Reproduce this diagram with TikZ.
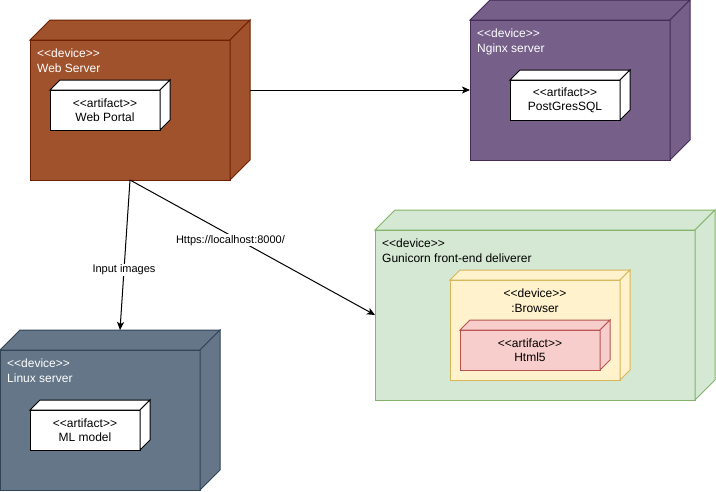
\documentclass[tikz,border=0pt]{standalone}
\usepackage{fontspec}
\setmainfont{Liberation Sans}[Ligatures=TeXOff]
\usetikzlibrary{arrows.meta,calc}

\definecolor{webfill}{HTML}{A0522D}\definecolor{webline}{HTML}{6D1F00}
\definecolor{ngfill}{HTML}{76608A}\definecolor{ngline}{HTML}{432D57}
\definecolor{lxfill}{HTML}{647687}\definecolor{lxline}{HTML}{314354}
\definecolor{gnfill}{HTML}{D5E8D4}\definecolor{gnline}{HTML}{82B366}
\definecolor{brfill}{HTML}{FFF2CC}\definecolor{brline}{HTML}{D6B656}
\definecolor{htfill}{HTML}{F8CECC}\definecolor{htline}{HTML}{B85450}

\tikzset{
  face/.style={draw, line width=1pt, inner sep=0pt, outer sep=0pt, anchor=north west},
  side/.style={line width=1pt, line join=miter},
  devtext/.style={inner sep=0pt, anchor=north west, align=left, font=\fontsize{12}{14.4}\selectfont},
  midtext/.style={inner sep=0pt, align=center, font=\fontsize{12}{14.4}\selectfont},
  conn/.style={line width=1pt, -{Stealth[length=8pt,width=7pt,inset=2pt]}},
  edgelabel/.style={fill=white, inner sep=1pt, font=\fontsize{11}{13}\selectfont},
}

% 3D box: name, left x, top y, width, height, depth, fill, line colour
\newcommand{\deploybox}[8]{%
  \node[face, fill=#7, draw=#8, minimum width=#4pt, minimum height=#5pt] (#1) at (#2,#3) {};
  \draw[side, fill=#7, draw=#8] (#1.north west) -- ++(#6,-#6)
     -- ($(#1.north east)+(#6,-#6)$) -- (#1.north east) -- cycle;
  \draw[side, fill=#7, draw=#8] (#1.north east) -- ++(#6,-#6)
     -- ($(#1.south east)+(#6,-#6)$) -- (#1.south east) -- cycle;
}

\begin{document}
\begin{tikzpicture}[x=1pt,y=-1pt]
\useasboundingbox (0,0) rectangle (716,491);

% Web server
\deploybox{web}{30}{40}{200}{140}{20}{webfill}{webline}
\node[devtext, text=white] (webT) at ($(web.north west)+(7,9)$) {<<device>>\\Web Server};
\deploybox{portal}{50}{90}{110}{40}{10}{white}{black}
\node[midtext] (portalT) at (portal.center) {<<artifact>>\\Web Portal};

% Nginx server
\deploybox{nginx}{470}{20}{200}{140}{20}{ngfill}{ngline}
\node[devtext, text=white] (nginxT) at ($(nginx.north west)+(7,9)$) {<<device>>\\Nginx server};
\deploybox{pg}{510}{80}{110}{40}{10}{white}{black}
\node[midtext] (pgT) at (pg.center) {<<artifact>>\\PostGresSQL};

% Gunicorn front-end deliverer
\deploybox{guni}{375}{230}{320}{170}{20}{gnfill}{gnline}
\node[devtext] (guniT) at ($(guni.north west)+(7,9)$) {<<device>>\\Gunicorn front-end deliverer};
\deploybox{browser}{450}{280}{170}{100}{10}{brfill}{brline}
\node[midtext, anchor=north] (browserT) at ($(browser.north)+(0,9)$) {<<device>>\\:Browser};
\deploybox{html}{460}{330}{140}{40}{10}{htfill}{htline}
\node[midtext] (htmlT) at (html.center) {<<artifact>>\\Html5};

% Linux server
\deploybox{linux}{0}{350}{200}{140}{20}{lxfill}{lxline}
\node[devtext, text=white] (linuxT) at ($(linux.north west)+(7,9)$) {<<device>>\\Linux server};
\deploybox{ml}{30}{410}{110}{40}{10}{white}{black}
\node[midtext] (mlT) at (ml.center) {<<artifact>>\\ML model};

% Connectors
\coordinate (webOut) at ($(web.north east)+(20,50)$);
\coordinate (nginxIn) at ($(nginx.north west)+(0,70)$);
\coordinate (webBottom) at (web.south);
\coordinate (linuxTop) at ($(linux.north)+(20,-20)$);
\coordinate (guniIn) at (guni.west);

\draw[conn] (webOut) -- (nginxIn);
\draw[conn] (webBottom) -- node[edgelabel, pos=0.6] {Input images} (linuxTop);
\draw[conn] (webBottom) -- node[edgelabel, pos=0.41, yshift=-5pt] {Https://localhost:8000/} (guniIn);
\end{tikzpicture}
\end{document}
